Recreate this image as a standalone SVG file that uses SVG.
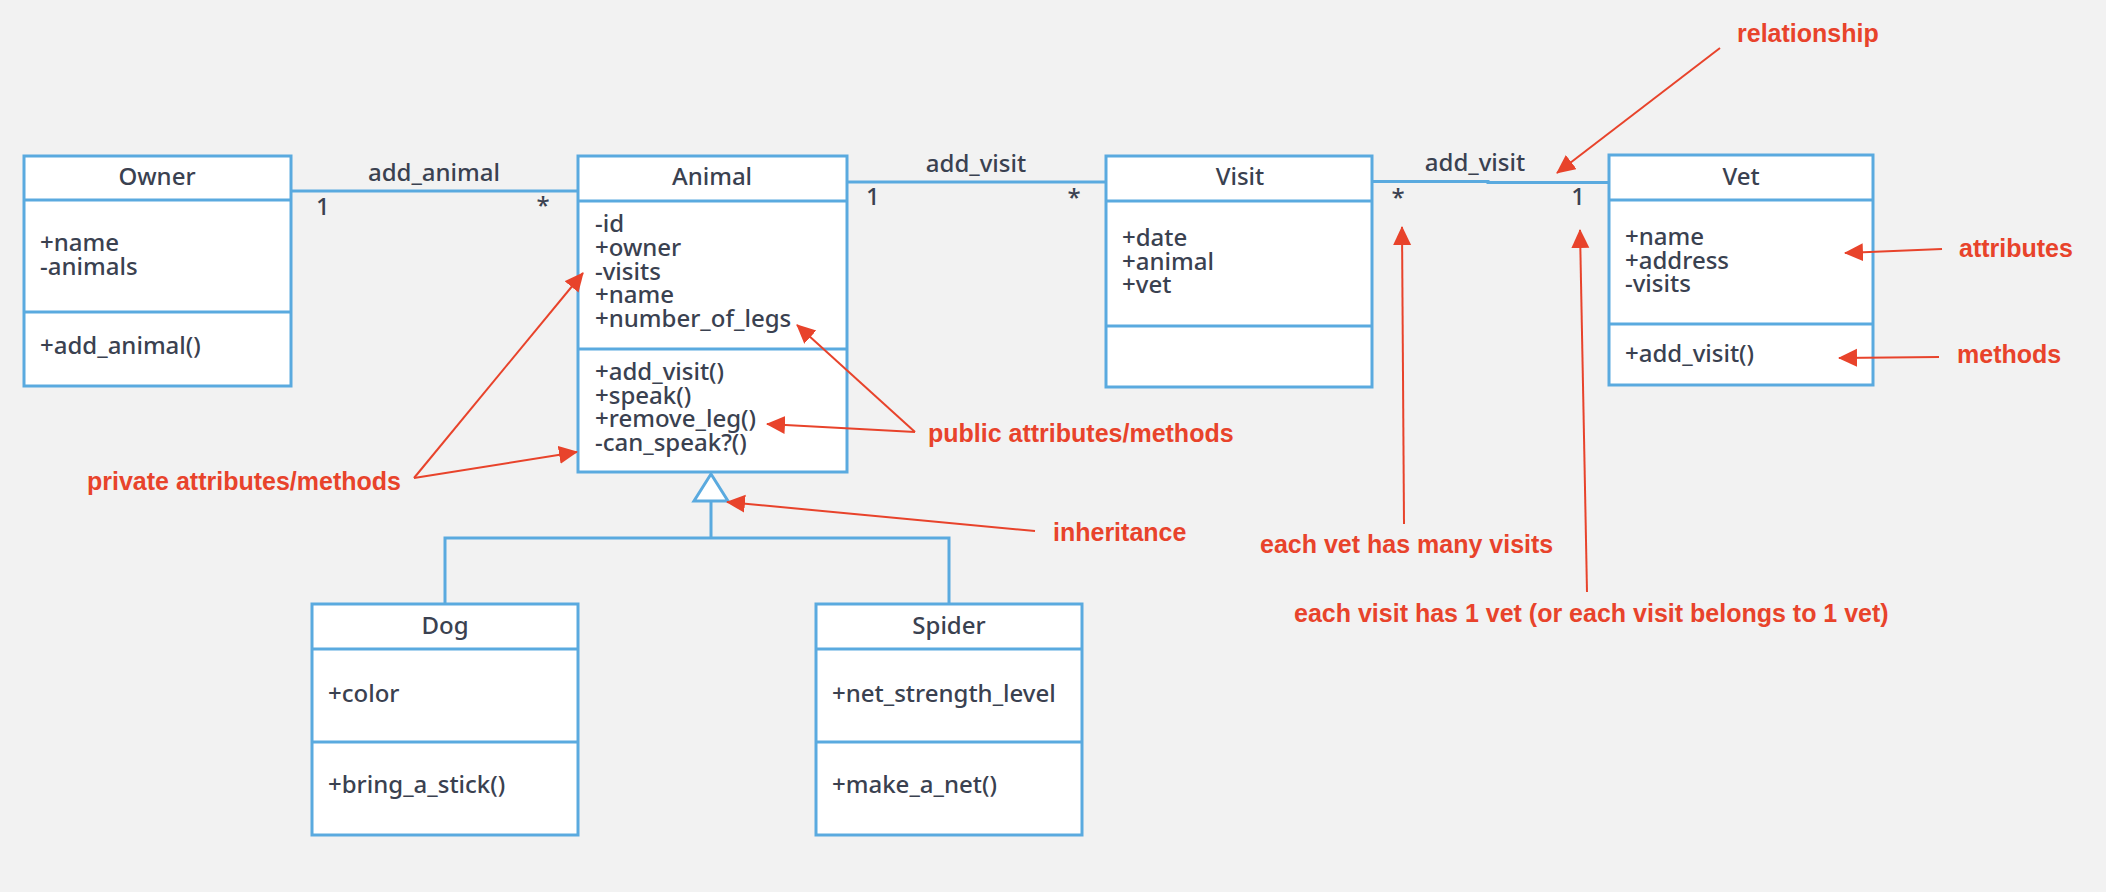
<svg xmlns="http://www.w3.org/2000/svg" width="2106" height="892" viewBox="0 0 2106 892">
<style>
.box{fill:#ffffff;stroke:#5aaadf;stroke-width:3}
.div{stroke:#5aaadf;stroke-width:3;fill:none}
.assoc{stroke:#5aaadf;stroke-width:3;fill:none}
.t{font-family:"Noto Sans","Open Sans","DejaVu Sans",sans-serif;font-size:24px;font-weight:500;fill:#3a4150}
.c{text-anchor:middle}
.note{font-family:"Liberation Sans",Arial,sans-serif;font-size:25px;font-weight:bold;fill:#e8432b}
.ann{stroke:#e8432b;stroke-width:2;fill:none;marker-end:url(#ah)}
</style>
<defs>
<marker id="ah" markerUnits="userSpaceOnUse" markerWidth="22" markerHeight="20" refX="18" refY="9" orient="auto">
<path d="M0,0 L19,9 L0,18 z" fill="#e8432b"/>
</marker>
</defs>
<rect x="0" y="0" width="2106" height="892" fill="#f2f2f2"/>

<g id="connectors">
<line class="assoc" x1="291" y1="191" x2="578" y2="191"/>
<line class="assoc" x1="847" y1="182" x2="1106" y2="182"/>
<polyline class="assoc" points="1372,181.5 1488,181.5 1488,182.5 1609,182.5"/>
<text class="t c" x="434" y="181">add_animal</text>
<text class="t" x="316" y="215">1</text>
<text class="t c" x="543" y="214">*</text>
<text class="t c" x="976" y="172">add_visit</text>
<text class="t" x="866" y="205">1</text>
<text class="t c" x="1074" y="206">*</text>
<text class="t c" x="1475" y="171">add_visit</text>
<text class="t c" x="1398" y="206">*</text>
<text class="t c" x="1578" y="205">1</text>
<polyline class="assoc" points="711,501 711,538"/>
<polyline class="assoc" points="445,604 445,538 949,538 949,604"/>
<polygon class="box" points="711,474 694,501 728,501"/>
</g>

<g id="owner">
<rect class="box" x="24" y="156" width="267" height="230"/>
<line class="div" x1="24" y1="200" x2="291" y2="200"/>
<line class="div" x1="24" y1="312" x2="291" y2="312"/>
<text class="t c" x="157" y="185">Owner</text>
<text class="t" x="40" y="251">+name</text>
<text class="t" x="40" y="275">-animals</text>
<text class="t" x="40" y="354">+add_animal()</text>
</g>

<g id="animal">
<rect class="box" x="578" y="156" width="269" height="316"/>
<line class="div" x1="578" y1="201" x2="847" y2="201"/>
<line class="div" x1="578" y1="349" x2="847" y2="349"/>
<text class="t c" x="712" y="185">Animal</text>
<text class="t" x="595" y="232">-id</text>
<text class="t" x="595" y="256">+owner</text>
<text class="t" x="595" y="279.5">-visits</text>
<text class="t" x="595" y="303">+name</text>
<text class="t" x="595" y="326.5">+number_of_legs</text>
<text class="t" x="595" y="380">+add_visit()</text>
<text class="t" x="595" y="403.5">+speak()</text>
<text class="t" x="595" y="427">+remove_leg()</text>
<text class="t" x="595" y="450.5">-can_speak?()</text>
</g>

<g id="visit">
<rect class="box" x="1106" y="156" width="266" height="231"/>
<line class="div" x1="1106" y1="201" x2="1372" y2="201"/>
<line class="div" x1="1106" y1="326" x2="1372" y2="326"/>
<text class="t c" x="1240" y="185">Visit</text>
<text class="t" x="1122" y="246">+date</text>
<text class="t" x="1122" y="269.5">+animal</text>
<text class="t" x="1122" y="293">+vet</text>
</g>

<g id="vet">
<rect class="box" x="1609" y="155" width="264" height="230"/>
<line class="div" x1="1609" y1="200" x2="1873" y2="200"/>
<line class="div" x1="1609" y1="324" x2="1873" y2="324"/>
<text class="t c" x="1741" y="185">Vet</text>
<text class="t" x="1625" y="245">+name</text>
<text class="t" x="1625" y="268.5">+address</text>
<text class="t" x="1625" y="292">-visits</text>
<text class="t" x="1625" y="362">+add_visit()</text>
</g>

<g id="dog">
<rect class="box" x="312" y="604" width="266" height="231"/>
<line class="div" x1="312" y1="649" x2="578" y2="649"/>
<line class="div" x1="312" y1="742" x2="578" y2="742"/>
<text class="t c" x="445" y="634">Dog</text>
<text class="t" x="328" y="702">+color</text>
<text class="t" x="328" y="793">+bring_a_stick()</text>
</g>

<g id="spider">
<rect class="box" x="816" y="604" width="266" height="231"/>
<line class="div" x1="816" y1="649" x2="1082" y2="649"/>
<line class="div" x1="816" y1="742" x2="1082" y2="742"/>
<text class="t c" x="949" y="634">Spider</text>
<text class="t" x="832" y="702">+net_strength_level</text>
<text class="t" x="832" y="793">+make_a_net()</text>
</g>

<g id="annotations">
<line class="ann" x1="1720" y1="48" x2="1557" y2="173"/>
<text class="note" x="1737" y="42">relationship</text>
<line class="ann" x1="1942" y1="249" x2="1845" y2="253"/>
<text class="note" x="1959" y="257">attributes</text>
<line class="ann" x1="1939" y1="357" x2="1839" y2="358"/>
<text class="note" x="1957" y="363">methods</text>
<line class="ann" x1="915" y1="432" x2="797" y2="325"/>
<line class="ann" x1="915" y1="432" x2="767" y2="424"/>
<text class="note" x="928" y="442">public attributes/methods</text>
<line class="ann" x1="414" y1="478" x2="583" y2="273"/>
<line class="ann" x1="414" y1="478" x2="577" y2="452"/>
<text class="note" x="87" y="490">private attributes/methods</text>
<line class="ann" x1="1035" y1="531" x2="727" y2="502"/>
<text class="note" x="1053" y="541">inheritance</text>
<line class="ann" x1="1404" y1="524" x2="1402" y2="227"/>
<text class="note" x="1260" y="553">each vet has many visits</text>
<line class="ann" x1="1587" y1="592" x2="1580" y2="230"/>
<text class="note" x="1294" y="622">each visit has 1 vet (or each visit belongs to 1 vet)</text>
</g>
</svg>
